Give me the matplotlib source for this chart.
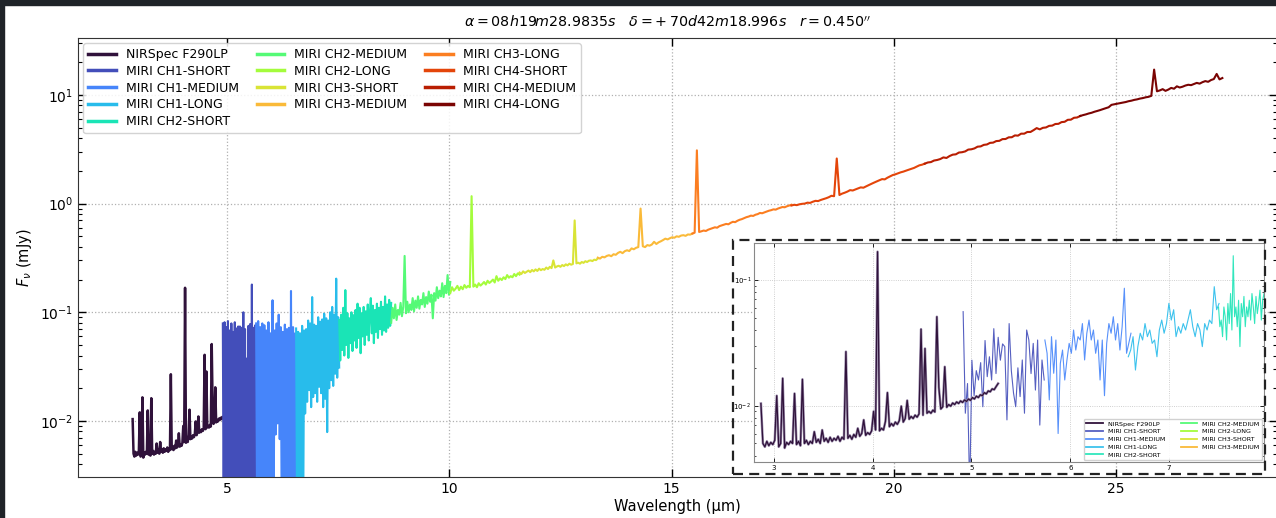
import numpy as np
import matplotlib
matplotlib.use("Agg")
import matplotlib.pyplot as plt
import matplotlib.patheffects as pe
from matplotlib.patches import Rectangle

# ---------------- data ----------------
labels = ["NIRSpec F290LP", "MIRI CH1-SHORT", "MIRI CH1-MEDIUM", "MIRI CH1-LONG",
          "MIRI CH2-SHORT", "MIRI CH2-MEDIUM", "MIRI CH2-LONG", "MIRI CH3-SHORT",
          "MIRI CH3-MEDIUM", "MIRI CH3-LONG", "MIRI CH4-SHORT", "MIRI CH4-MEDIUM",
          "MIRI CH4-LONG"]

# wavelength coverage of each segment (micron)
seg_start = [2.87, 4.90, 5.65, 6.55, 7.52, 8.69, 10.02, 11.58, 13.34, 15.47, 17.70, 20.70, 24.20]
seg_end = [5.27, 5.65, 6.55, 7.52, 8.69, 10.02, 11.58, 13.34, 15.47, 17.70, 20.70, 24.20, 27.40]

# flux density (mJy), evenly sampled across each segment
flux_nirspec = [
    0.0104, 0.0050, 0.0047, 0.0052, 0.0048, 0.0051, 0.0049, 0.0053, 0.0120, 0.0047,
    0.0050, 0.0165, 0.0046, 0.0051, 0.0049, 0.0052, 0.0050, 0.0125, 0.0049, 0.0052,
    0.0048, 0.0162, 0.0050, 0.0053, 0.0049, 0.0052, 0.0050, 0.0062, 0.0051, 0.0054,
    0.0050, 0.0064, 0.0052, 0.0055, 0.0051, 0.0056, 0.0052, 0.0055, 0.0053, 0.0057,
    0.0052, 0.0056, 0.0054, 0.0269, 0.0055, 0.0058, 0.0054, 0.0059, 0.0056, 0.0066,
    0.0057, 0.0060, 0.0077, 0.0058, 0.0061, 0.0059, 0.0063, 0.0090, 0.0064, 0.1680,
    0.0063, 0.0066, 0.0064, 0.0075, 0.0127, 0.0068, 0.0072, 0.0069, 0.0074, 0.0071,
    0.0076, 0.0099, 0.0074, 0.0079, 0.0110, 0.0078, 0.0082, 0.0079, 0.0084, 0.0081,
    0.0086, 0.0406, 0.0084, 0.0285, 0.0087, 0.0090, 0.0087, 0.0092, 0.0089, 0.0510,
    0.0140, 0.0094, 0.0098, 0.0204, 0.0097, 0.0102, 0.0099, 0.0105, 0.0102, 0.0107,
    0.0104, 0.0109, 0.0106, 0.0111, 0.0108, 0.0113, 0.0110, 0.0116, 0.0113, 0.0119,
    0.0116, 0.0122, 0.0120, 0.0127, 0.0124, 0.0131, 0.0129, 0.0136, 0.0134, 0.0142,
    0.0150]

flux_ch1_short = [
    0.079, 0.001, 0.081, 0.001, 0.073, 0.001, 0.083, 0.001, 0.068, 0.001,
    0.079, 0.001, 0.066, 0.001, 0.081, 0.001, 0.071, 0.001, 0.074, 0.001,
    0.074, 0.001, 0.072, 0.001, 0.100, 0.001, 0.070, 0.001, 0.0375, 0.001,
    0.075, 0.001, 0.078, 0.001, 0.180, 0.001, 0.072, 0.001, 0.076, 0.001]

flux_ch1_medium = [
    0.079, 0.001, 0.083, 0.001, 0.073, 0.001, 0.079, 0.001, 0.076, 0.001,
    0.068, 0.001, 0.081, 0.001, 0.064, 0.001, 0.129, 0.001, 0.068, 0.0075,
    0.079, 0.0095, 0.095, 0.0068, 0.073, 0.001, 0.066, 0.001, 0.077, 0.001,
    0.070, 0.001, 0.072, 0.001, 0.157, 0.001, 0.073, 0.001, 0.064, 0.001]

flux_ch1_long = [
    0.071, 0.001, 0.066, 0.001, 0.064, 0.002, 0.075, 0.001, 0.068, 0.0117,
    0.070, 0.0150, 0.084, 0.0192, 0.079, 0.0134, 0.138, 0.0166, 0.077, 0.0180,
    0.075, 0.0150, 0.090, 0.0206, 0.082, 0.0180, 0.086, 0.0134, 0.097, 0.0160,
    0.088, 0.0079, 0.084, 0.0200, 0.100, 0.0237, 0.112, 0.0210, 0.095, 0.0272,
    0.204, 0.0250, 0.090, 0.0310]

flux_ch2_short = [
    0.085, 0.036, 0.095, 0.045, 0.110, 0.040, 0.160, 0.050, 0.098, 0.038,
    0.088, 0.052, 0.100, 0.044, 0.094, 0.055, 0.105, 0.047, 0.120, 0.058,
    0.110, 0.042, 0.098, 0.060, 0.112, 0.050, 0.102, 0.062, 0.118, 0.055,
    0.097, 0.135, 0.064, 0.115, 0.052, 0.105, 0.066, 0.120, 0.058, 0.110,
    0.070, 0.125, 0.062, 0.112, 0.068, 0.140, 0.066, 0.118, 0.072, 0.130,
    0.075, 0.122]

flux_ch2_medium = [
    0.080, 0.110, 0.088, 0.118, 0.085, 0.105, 0.095, 0.122, 0.092, 0.112,
    0.330, 0.098, 0.125, 0.100, 0.118, 0.105, 0.135, 0.102, 0.128, 0.110,
    0.140, 0.108, 0.130, 0.118, 0.150, 0.112, 0.138, 0.120, 0.155, 0.125,
    0.145, 0.088, 0.150, 0.128, 0.170, 0.135, 0.158, 0.140, 0.185, 0.138,
    0.175, 0.150, 0.220, 0.145, 0.190]

flux_ch2_long = [
    0.150, 0.170, 0.158, 0.165, 0.175, 0.160, 0.172, 0.163, 0.178, 0.168,
    0.175, 0.170, 1.170, 0.172, 0.180, 0.170, 0.185, 0.176, 0.182, 0.190,
    0.180, 0.195, 0.186, 0.192, 0.200, 0.188, 0.215, 0.195, 0.205, 0.198,
    0.210, 0.202, 0.220, 0.208, 0.215, 0.210, 0.225, 0.215, 0.228, 0.222]

flux_ch3_short = [
    0.232, 0.225, 0.238, 0.230, 0.236, 0.242, 0.234, 0.245, 0.238, 0.248,
    0.240, 0.252, 0.244, 0.250, 0.246, 0.258, 0.250, 0.262, 0.255, 0.300,
    0.258, 0.264, 0.268, 0.262, 0.272, 0.266, 0.276, 0.270, 0.280, 0.274,
    0.278, 0.700, 0.282, 0.286, 0.280, 0.290, 0.285, 0.295, 0.290, 0.298,
    0.300, 0.296, 0.305, 0.302, 0.312]

flux_ch3_medium = [
    0.318, 0.312, 0.324, 0.320, 0.330, 0.335, 0.328, 0.342, 0.338, 0.352,
    0.360, 0.350, 0.365, 0.372, 0.366, 0.387, 0.380, 0.392, 0.398, 0.900,
    0.405, 0.398, 0.415, 0.410, 0.420, 0.445, 0.425, 0.440, 0.450, 0.462,
    0.476, 0.468, 0.480, 0.490, 0.485, 0.500, 0.495, 0.508, 0.512, 0.505,
    0.520, 0.518, 0.530]

flux_ch3_long = [
    0.530, 0.540, 3.090, 0.548, 0.556, 0.565, 0.560, 0.575, 0.585, 0.595,
    0.605, 0.600, 0.620, 0.630, 0.640, 0.650, 0.645, 0.665, 0.680, 0.675,
    0.695, 0.710, 0.720, 0.735, 0.750, 0.760, 0.775, 0.770, 0.790, 0.800,
    0.820, 0.815, 0.830, 0.845, 0.860, 0.870, 0.885, 0.880, 0.900, 0.915,
    0.930, 0.925, 0.945, 0.960, 0.975]

flux_ch4_short = [
    0.960, 0.975, 0.968, 0.985, 0.995, 1.000, 1.020, 1.015, 1.040, 1.060,
    1.055, 1.080, 1.100, 1.120, 1.145, 1.180, 1.170, 2.600, 1.200, 1.235,
    1.260, 1.290, 1.330, 1.320, 1.350, 1.380, 1.410, 1.400, 1.440, 1.480,
    1.520, 1.560, 1.600, 1.640, 1.680, 1.670, 1.730, 1.780, 1.830, 1.860,
    1.900, 1.940, 1.970, 2.010, 2.050, 2.090, 2.130, 2.190, 2.250, 2.280,
    2.330]

flux_ch4_medium = [
    2.33, 2.39, 2.41, 2.49, 2.52, 2.57, 2.66, 2.63, 2.74, 2.82,
    2.84, 2.95, 2.97, 3.02, 3.14, 3.16, 3.22, 3.34, 3.36, 3.47,
    3.50, 3.62, 3.64, 3.76, 3.78, 3.92, 3.93, 4.07, 4.08, 4.24,
    4.22, 4.40, 4.40, 4.56, 4.56, 4.74, 4.95, 4.82, 4.98, 5.02,
    5.19, 5.22, 5.40, 5.42, 5.62, 5.66, 5.90, 5.92, 6.16, 6.20,
    6.40]

flux_ch4_long = [
    6.40, 6.52, 6.62, 6.75, 6.85, 7.00, 7.12, 7.25, 7.40, 7.55,
    7.70, 8.10, 8.20, 8.30, 8.40, 8.50, 8.60, 8.75, 8.85, 9.00,
    9.10, 9.25, 9.35, 9.50, 9.60, 9.80, 17.10, 10.80, 11.00, 11.30,
    10.90, 11.20, 11.60, 11.40, 12.00, 11.70, 11.90, 12.20, 12.40, 12.30,
    12.60, 12.90, 12.70, 13.10, 13.40, 13.20, 13.70, 14.00, 15.60, 13.90,
    14.30]

main_flux = [flux_nirspec, flux_ch1_short, flux_ch1_medium, flux_ch1_long,
             flux_ch2_short, flux_ch2_medium, flux_ch2_long, flux_ch3_short,
             flux_ch3_medium, flux_ch3_long, flux_ch4_short, flux_ch4_medium,
             flux_ch4_long]

# inset (zoom on 2.8 - 8 micron): MIRI channel-1 / ch2-short as shown there
inset_start = [4.916, 5.743, 6.587, 7.50]
inset_end = [5.736, 6.614, 7.505, 7.96]
inset_ch1_short = [
    0.056, 0.0087, 0.015, 0.002, 0.023, 0.012, 0.019, 0.016, 0.022, 0.0098,
    0.033, 0.017, 0.0245, 0.016, 0.041, 0.018, 0.035, 0.023, 0.031, 0.0295,
    0.0077, 0.045, 0.019, 0.0126, 0.0098, 0.020, 0.0118, 0.0231, 0.0087, 0.040,
    0.0333, 0.018, 0.0313, 0.0133, 0.0333, 0.0070, 0.0231, 0.016]
inset_ch1_medium = [
    0.0333, 0.0261, 0.0111, 0.0354, 0.0181, 0.0333, 0.0060, 0.0217, 0.0277, 0.0160,
    0.0231, 0.0313, 0.0261, 0.0400, 0.0277, 0.0354, 0.0333, 0.0450, 0.0231, 0.0377,
    0.0480, 0.0333, 0.0400, 0.0261, 0.0333, 0.0160, 0.0333, 0.0120, 0.0313, 0.0450,
    0.0377, 0.0510, 0.0333, 0.0450, 0.0277, 0.0425, 0.0860, 0.0261, 0.0313, 0.0377]
inset_ch1_long = [
    0.0245, 0.0277, 0.0354, 0.0192, 0.0295, 0.0377, 0.0333, 0.0450, 0.0354, 0.0400,
    0.0313, 0.0333, 0.0245, 0.0400, 0.0480, 0.0377, 0.0450, 0.0652, 0.0480, 0.0580,
    0.0354, 0.0425, 0.0377, 0.0450, 0.0400, 0.0480, 0.0580, 0.0425, 0.0354, 0.0450,
    0.0400, 0.0295, 0.0450, 0.0400, 0.0480, 0.0450, 0.0885, 0.0580, 0.0650]
inset_ch2_short = [
    0.061, 0.0425, 0.048, 0.0354, 0.061, 0.051, 0.0333, 0.065, 0.045, 0.078,
    0.040, 0.156, 0.051, 0.061, 0.0425, 0.069, 0.0295, 0.065, 0.051, 0.074,
    0.0425, 0.061, 0.051, 0.069, 0.048, 0.078, 0.061, 0.045, 0.074, 0.054,
    0.065, 0.083, 0.048, 0.069, 0.078]
inset_flux = [inset_ch1_short, inset_ch1_medium, inset_ch1_long, inset_ch2_short]

title = (r"$\alpha = 08h19m28.9835s$   $\delta = +\,70d42m18.996s$   "
         r"$r = 0.450''$")

# ---------------- figure ----------------
W, H = 1276, 518
fig = plt.figure(figsize=(W / 100, H / 100), dpi=100)
colors = plt.cm.turbo(np.linspace(0, 1, len(labels)))

ax = fig.add_axes([78 / W, 1 - 477 / H, (1277 - 78) / W, (477 - 38) / H])
ax.set_yscale("log")
for i, (lab, f, w0, w1, c) in enumerate(zip(labels, main_flux, seg_start, seg_end, colors)):
    ax.plot(np.linspace(w0, w1, len(f)), f, color=c, lw=1.8 if i == 0 else 1.5, label=lab)
ax.set_xlim(1.64, 28.63)
ax.set_ylim(0.00305, 33.4)
ax.set_xticks([5, 10, 15, 20, 25])
ax.tick_params(which="both", direction="in", top=True, right=True)
ax.tick_params(which="major", length=6, width=1, labelsize=10)
ax.tick_params(which="minor", length=3, width=0.8)
ax.grid(True, which="major", ls=":", color="#b0b0b0", lw=0.9)
for s in ax.spines.values():
    s.set_color("#333333")
ax.set_xlabel("Wavelength (µm)", fontsize=10.5, labelpad=2)
ax.set_ylabel(r"$F_{\nu}$ (mJy)", fontsize=10.5)
ax.set_title(title, fontsize=10.3, pad=8, x=(667 - 78) / (1277 - 78))
leg = ax.legend(loc="upper left", ncol=3, fontsize=9, handlelength=2.2,
                columnspacing=1.45, labelspacing=0.3, borderaxespad=0.4,
                framealpha=0.85)
for h in leg.get_lines():
    h.set_linewidth(2.5)

# ---------------- inset ----------------
axin = fig.add_axes([754 / W, 1 - 462 / H, 510 / W, 219 / H])
axin.set_yscale("log")
axin.plot(np.linspace(seg_start[0], seg_end[0], len(flux_nirspec)), flux_nirspec,
          color=colors[0], lw=0.9, label=labels[0], zorder=3,
          path_effects=[pe.Stroke(linewidth=1.8, foreground="#9a8cab"), pe.Normal()])
for lab, f, w0, w1, c in zip(labels[1:5], inset_flux, inset_start, inset_end, colors[1:5]):
    axin.plot(np.linspace(w0, w1, len(f)), f, color=c, lw=0.8, alpha=0.9, label=lab)
for lab, f, w0, w1, c in zip(labels[5:9], main_flux[5:9], seg_start[5:9], seg_end[5:9], colors[5:9]):
    axin.plot(np.linspace(w0, w1, len(f)), f, color=c, lw=0.8, label=lab)
axin.set_xlim(2.80, 7.96)
axin.set_ylim(0.00356, 0.197)
axin.set_xticks([3, 4, 5, 6, 7])
axin.tick_params(which="both", direction="in", top=True, right=True, labelsize=5, pad=2)
axin.tick_params(which="major", length=3, width=0.6)
axin.tick_params(which="minor", length=1.5, width=0.5)
axin.grid(True, which="major", ls=":", color="#c0c0c0", lw=0.6)
for s in axin.spines.values():
    s.set_color("#888888")
    s.set_linewidth(0.8)
legi = axin.legend(loc="lower right", ncol=2, fontsize=4.6, handlelength=2.6,
                   columnspacing=2.4, labelspacing=0.35, borderaxespad=0.3,
                   framealpha=0.9)
for h in legi.get_lines():
    h.set_linewidth(1.3)
    h.set_path_effects([])

# dashed frame around the inset
fig.patches.append(Rectangle((733 / W, 1 - 474 / H), 532 / W, 234 / H,
                             transform=fig.transFigure, fill=False, ec="#222222",
                             lw=1.6, ls=(0, (4.5, 2.8)), zorder=5))
# dark screenshot border
fig.patches.append(Rectangle((0, 1 - 5 / H), 1, 5 / H, transform=fig.transFigure,
                             color="#1f2328", zorder=6))
fig.patches.append(Rectangle((0, 0), 4 / W, 1, transform=fig.transFigure,
                             color="#1f2328", zorder=6))

fig.savefig("out.png", dpi=100)
